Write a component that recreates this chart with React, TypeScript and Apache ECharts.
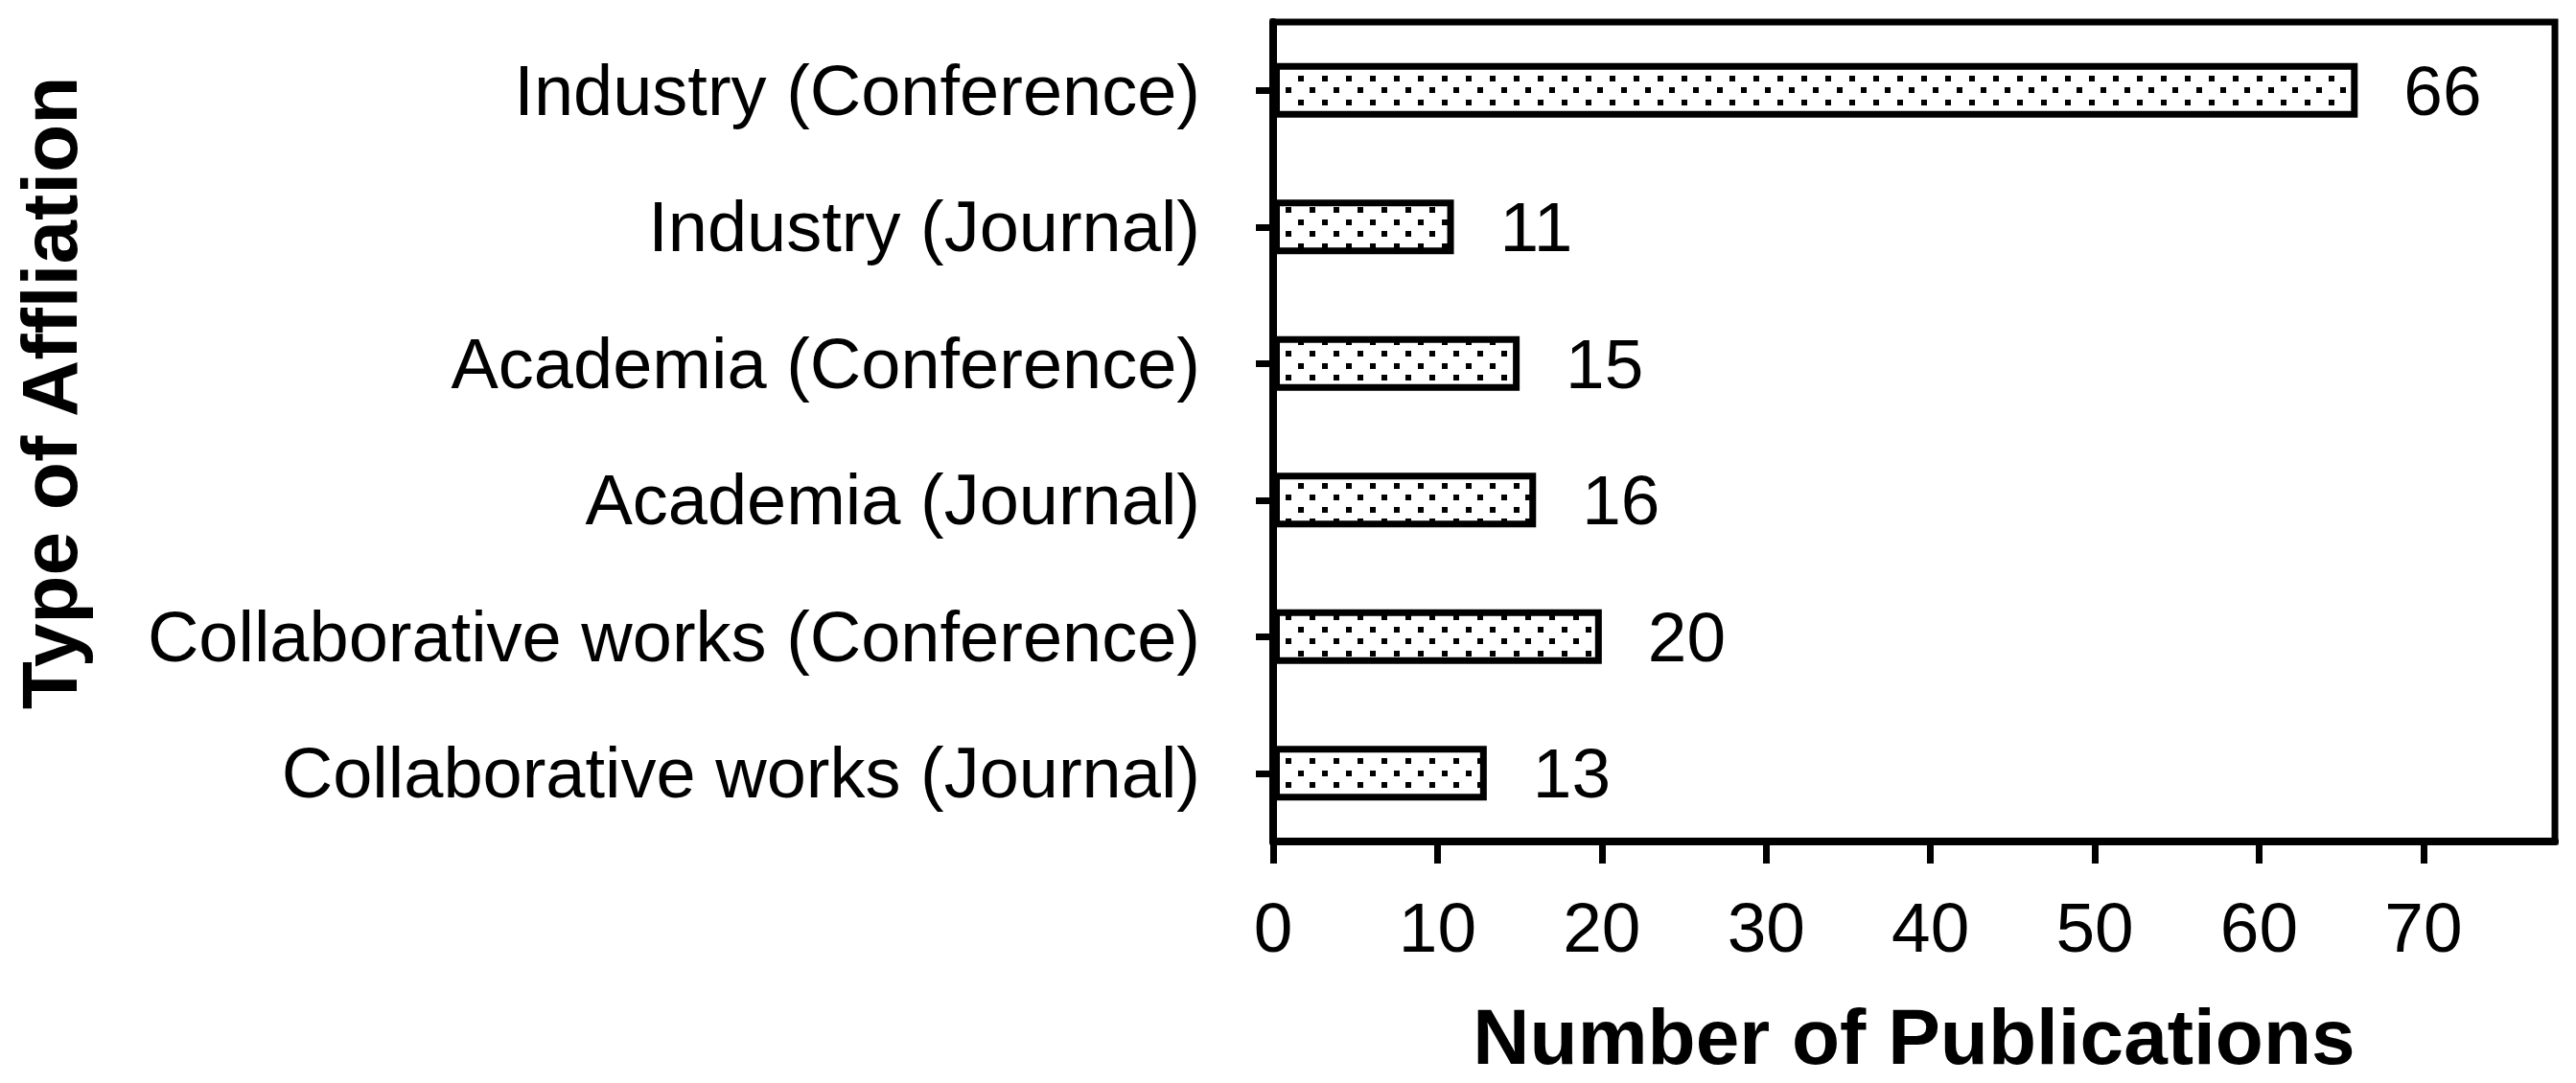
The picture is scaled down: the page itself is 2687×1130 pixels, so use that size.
import React, { useEffect, useRef } from "react";
import * as echarts from "echarts";

const CATEGORIES = [
  "Industry (Conference)",
  "Industry (Journal)",
  "Academia (Conference)",
  "Academia (Journal)",
  "Collaborative works (Conference)",
  "Collaborative works (Journal)",
];
const VALUES = [66, 11, 15, 16, 20, 13];
const X_TICKS = [0, 10, 20, 30, 40, 50, 60, 70];
const X_MIN = 0;
const X_MAX = 78;
const X_TITLE = "Number of Publications";
const Y_TITLE = "Type of Affliation";

const FONT = "'Liberation Sans', Arial, Helvetica, sans-serif";

function makeDotPattern(): HTMLCanvasElement {
  const c = document.createElement("canvas");
  c.width = 25;
  c.height = 25;
  const ctx = c.getContext("2d")!;
  ctx.fillStyle = "#ffffff";
  ctx.fillRect(0, 0, 25, 25);
  ctx.fillStyle = "#000000";
  ctx.fillRect(4, 4, 6, 6);
  ctx.fillRect(16, 16, 6, 6);
  return c;
}

export default function App() {
  const ref = useRef<HTMLDivElement>(null);

  useEffect(() => {
    document.body.style.margin = "0";
    document.body.style.overflow = "hidden";
    if (!ref.current) return;
    const chart = echarts.init(ref.current, null, { renderer: "svg" });
    const pattern = makeDotPattern();

    chart.setOption({
      animation: false,
      backgroundColor: "#ffffff",
      textStyle: { fontFamily: FONT, color: "#000" },
      grid: {
        left: 1328,
        right: 22,
        top: 23,
        bottom: 252,
        show: true,
        borderColor: "#000",
        borderWidth: 7,
        backgroundColor: "transparent",
      },
      xAxis: {
        type: "value",
        min: X_MIN,
        max: X_MAX,
        interval: 10,
        splitLine: { show: false },
        axisLine: { show: true, lineStyle: { color: "#000", width: 8 } },
        axisTick: {
          show: true,
          length: 23,
          customValues: X_TICKS,
          lineStyle: { color: "#000", width: 7 },
        },
        axisLabel: {
          customValues: X_TICKS,
          fontSize: 73,
          fontFamily: FONT,
          color: "#000",
          margin: 89,
          verticalAlign: "middle",
        },
        name: X_TITLE,
        nameLocation: "middle",
        nameGap: 203,
        nameTextStyle: {
          fontSize: 82,
          fontWeight: "bold",
          fontFamily: FONT,
          color: "#000",
          verticalAlign: "middle",
        },
      },
      yAxis: {
        type: "category",
        data: CATEGORIES,
        inverse: true,
        axisLine: { show: true, lineStyle: { color: "#000", width: 8 } },
        axisTick: {
          show: true,
          alignWithLabel: true,
          length: 18,
          lineStyle: { color: "#000", width: 7 },
        },
        axisLabel: {
          fontSize: 74,
          fontFamily: FONT,
          color: "#000",
          margin: 76,
        },
        splitLine: { show: false },
      },
      graphic: [
        {
          type: "text",
          x: 51,
          y: 410,
          rotation: Math.PI / 2,
          style: {
            text: Y_TITLE,
            fontSize: 82,
            fontWeight: "bold",
            fontFamily: FONT,
            fill: "#000",
            textAlign: "center",
            textVerticalAlign: "middle",
          },
        },
      ],
      series: [
        {
          type: "bar",
          data: VALUES,
          barWidth: 57,
          itemStyle: {
            color: { image: pattern, repeat: "repeat" },
            borderColor: "#000",
            borderWidth: 7,
          },
          label: {
            show: true,
            position: "right",
            distance: 48,
            fontSize: 73,
            fontFamily: FONT,
            color: "#000",
          },
        },
      ],
    });

    return () => {
      chart.dispose();
    };
  }, []);

  return <div ref={ref} style={{ width: 2687, height: 1130 }} />;
}
